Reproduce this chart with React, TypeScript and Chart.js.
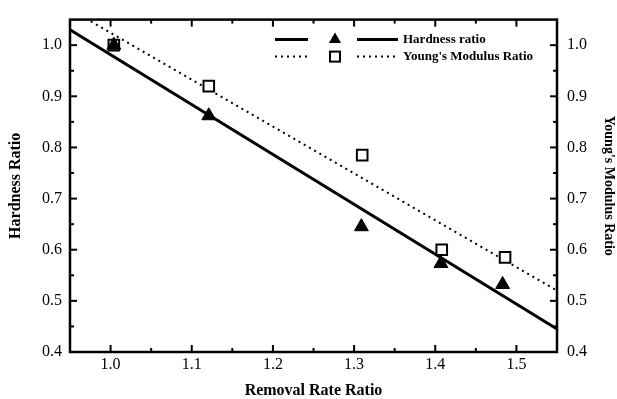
import { useEffect, useRef } from 'react';
import { Chart, registerables } from 'chart.js';

Chart.register(...registerables);

// ---- data ----
const hardnessX = [1.004, 1.121, 1.309, 1.407, 1.483];
const hardnessY = [1.0, 0.862, 0.645, 0.573, 0.532];
const youngX = [1.004, 1.121, 1.31, 1.408, 1.486];
const youngY = [1.0, 0.92, 0.785, 0.6, 0.585];
const fitX = [0.95, 1.55];
const hardnessFitY = [1.03, 0.445];
const youngFitY = [1.07, 0.52];

const xMajorTicks = [1.0, 1.1, 1.2, 1.3, 1.4, 1.5];
const xMinorTicks = [1.05, 1.15, 1.25, 1.35, 1.45];
const yMajorTicks = [0.4, 0.5, 0.6, 0.7, 0.8, 0.9, 1.0];
const yMinorTicks = [0.45, 0.55, 0.65, 0.75, 0.85, 0.95];

const xTitle = 'Removal Rate Ratio';
const yTitle = 'Hardness Ratio';
const y2Title = "Young's Modulus Ratio";
const hardnessLabel = 'Hardness ratio';
const youngLabel = "Young's Modulus Ratio";

const SERIF = "'Liberation Serif', 'Times New Roman', serif";

const framePlugin = {
  id: 'frameTicks',
  afterDatasetsDraw(chart: any) {
    const { ctx, chartArea } = chart;
    const { left, right, top, bottom } = chartArea;
    const sx = chart.scales.x;
    const sy = chart.scales.y;
    const sy2 = chart.scales.y2;
    ctx.save();
    ctx.strokeStyle = '#000';
    ctx.lineWidth = 2.5;
    ctx.strokeRect(left, top, right - left, bottom - top);
    ctx.lineWidth = 2;
    const major = 7;
    const minor = 4;
    const line = (x1: number, y1: number, x2: number, y2: number) => {
      ctx.beginPath();
      ctx.moveTo(x1, y1);
      ctx.lineTo(x2, y2);
      ctx.stroke();
    };
    xMajorTicks.forEach((v) => {
      const p = sx.getPixelForValue(v);
      line(p, bottom, p, bottom - major);
      line(p, top, p, top + major);
    });
    xMinorTicks.forEach((v) => {
      const p = sx.getPixelForValue(v);
      line(p, bottom, p, bottom - minor);
      line(p, top, p, top + minor);
    });
    yMajorTicks.forEach((v) => {
      const p = sy.getPixelForValue(v);
      line(left, p, left + major, p);
      const q = sy2.getPixelForValue(v);
      line(right, q, right - major, q);
    });
    yMinorTicks.forEach((v) => {
      const p = sy.getPixelForValue(v);
      line(left, p, left + minor, p);
      const q = sy2.getPixelForValue(v);
      line(right, q, right - minor, q);
    });
    ctx.restore();
  },
  afterDraw(chart: any) {
    const { ctx, chartArea } = chart;
    const { right, top } = chartArea;
    const ds = chart.data.datasets;
    const rows = [
      { lineDs: ds[2], markDs: ds[0], y: top + 20 },
      { lineDs: ds[3], markDs: ds[1], y: top + 37 },
    ];
    ctx.save();
    rows.forEach((r) => {
      ctx.strokeStyle = '#000';
      ctx.lineWidth = r.lineDs.borderWidth;
      ctx.setLineDash(r.lineDs.borderDash || []);
      ctx.beginPath();
      ctx.moveTo(right - 282, r.y);
      ctx.lineTo(right - 249, r.y);
      ctx.moveTo(right - 200, r.y);
      ctx.lineTo(right - 159, r.y);
      ctx.stroke();
      ctx.setLineDash([]);
      const cx = right - 222;
      if (r.markDs.pointStyle === 'triangle') {
        const rad = 7;
        ctx.fillStyle = '#000';
        ctx.beginPath();
        ctx.moveTo(cx, r.y - rad);
        ctx.lineTo(cx + rad * 0.866, r.y + rad * 0.5);
        ctx.lineTo(cx - rad * 0.866, r.y + rad * 0.5);
        ctx.closePath();
        ctx.fill();
      } else {
        ctx.lineWidth = 2;
        ctx.fillStyle = '#fff';
        ctx.fillRect(cx - 5, r.y - 5, 10, 10);
        ctx.strokeRect(cx - 5, r.y - 5, 10, 10);
      }
      ctx.fillStyle = '#000';
      ctx.font = `bold 13px ${SERIF}`;
      ctx.textAlign = 'left';
      ctx.textBaseline = 'middle';
      ctx.fillText(r.markDs.label, right - 154, r.y);
    });
    ctx.restore();
  },
};

export default function App() {
  const ref = useRef<HTMLCanvasElement | null>(null);

  useEffect(() => {
    if (!ref.current) return;
    const chart = new Chart(ref.current, {
      type: 'scatter',
      data: {
        datasets: [
          {
            label: hardnessLabel,
            data: hardnessX.map((x, i) => ({ x, y: hardnessY[i] })),
            yAxisID: 'y',
            pointStyle: 'triangle',
            pointRadius: 8,
            backgroundColor: '#000',
            borderColor: '#000',
            borderWidth: 1,
            showLine: false,
            order: 0,
          },
          {
            label: youngLabel,
            data: youngX.map((x, i) => ({ x, y: youngY[i] })),
            yAxisID: 'y2',
            pointStyle: 'rect',
            pointRadius: 7.5,
            backgroundColor: '#fff',
            borderColor: '#000',
            borderWidth: 2,
            showLine: false,
            order: 1,
          },
          {
            label: hardnessLabel + ' fit',
            data: fitX.map((x, i) => ({ x, y: hardnessFitY[i] })),
            yAxisID: 'y',
            showLine: true,
            borderColor: '#000',
            borderWidth: 3,
            pointRadius: 0,
            order: 2,
          },
          {
            label: youngLabel + ' fit',
            data: fitX.map((x, i) => ({ x, y: youngFitY[i] })),
            yAxisID: 'y2',
            showLine: true,
            borderColor: '#000',
            borderWidth: 2,
            borderDash: [2, 4],
            pointRadius: 0,
            order: 3,
          },
        ],
      },
      options: {
        animation: false,
        responsive: false,
        devicePixelRatio: 1,
        layout: { padding: { top: 15, left: 0, right: 0, bottom: 0 } },
        plugins: {
          legend: { display: false },
          tooltip: { enabled: false },
        },
        scales: {
          x: {
            type: 'linear',
            position: 'bottom',
            min: 0.95,
            max: 1.55,
            grid: { display: false, drawTicks: false },
            border: { display: false },
            afterBuildTicks: (s: any) => {
              s.ticks = xMajorTicks.map((value) => ({ value }));
            },
            afterFit: (s: any) => {
              s.height = 47;
            },
            ticks: {
              padding: 3,
              color: '#000',
              font: { family: SERIF, size: 16 },
              callback: (v: any) => Number(v).toFixed(1),
            },
            title: {
              display: true,
              text: xTitle,
              color: '#000',
              font: { family: SERIF, size: 16, weight: 'bold', lineHeight: 1 },
              padding: { top: 0, bottom: 0 },
            },
          },
          y: {
            type: 'linear',
            position: 'left',
            min: 0.4,
            max: 1.05,
            grid: { display: false, drawTicks: false },
            border: { display: false },
            afterBuildTicks: (s: any) => {
              s.ticks = yMajorTicks.map((value) => ({ value }));
            },
            afterFit: (s: any) => {
              s.width = 70;
            },
            ticks: {
              padding: 8,
              color: '#000',
              font: { family: SERIF, size: 16 },
              callback: (v: any) => Number(v).toFixed(1),
            },
            title: {
              display: true,
              text: yTitle,
              color: '#000',
              font: { family: SERIF, size: 16, weight: 'bold' },
              padding: { top: 6, bottom: 0 },
            },
          },
          y2: {
            type: 'linear',
            position: 'right',
            min: 0.4,
            max: 1.05,
            grid: { display: false, drawTicks: false },
            border: { display: false },
            afterBuildTicks: (s: any) => {
              s.ticks = yMajorTicks.map((value) => ({ value }));
            },
            afterFit: (s: any) => {
              s.width = 60;
            },
            ticks: {
              padding: 10,
              color: '#000',
              font: { family: SERIF, size: 16 },
              callback: (v: any) => Number(v).toFixed(1),
            },
            title: {
              display: true,
              text: y2Title,
              color: '#000',
              font: { family: SERIF, size: 14, weight: 'bold' },
              padding: { top: 0, bottom: 0 },
            },
          },
        },
      } as any,
      plugins: [framePlugin],
    });
    return () => chart.destroy();
  }, []);

  return (
    <div style={{ position: 'absolute', left: 0, top: 0, width: 617, height: 399, background: '#fff' }}>
      <canvas ref={ref} width={617} height={399} style={{ width: 617, height: 399 }} />
    </div>
  );
}
